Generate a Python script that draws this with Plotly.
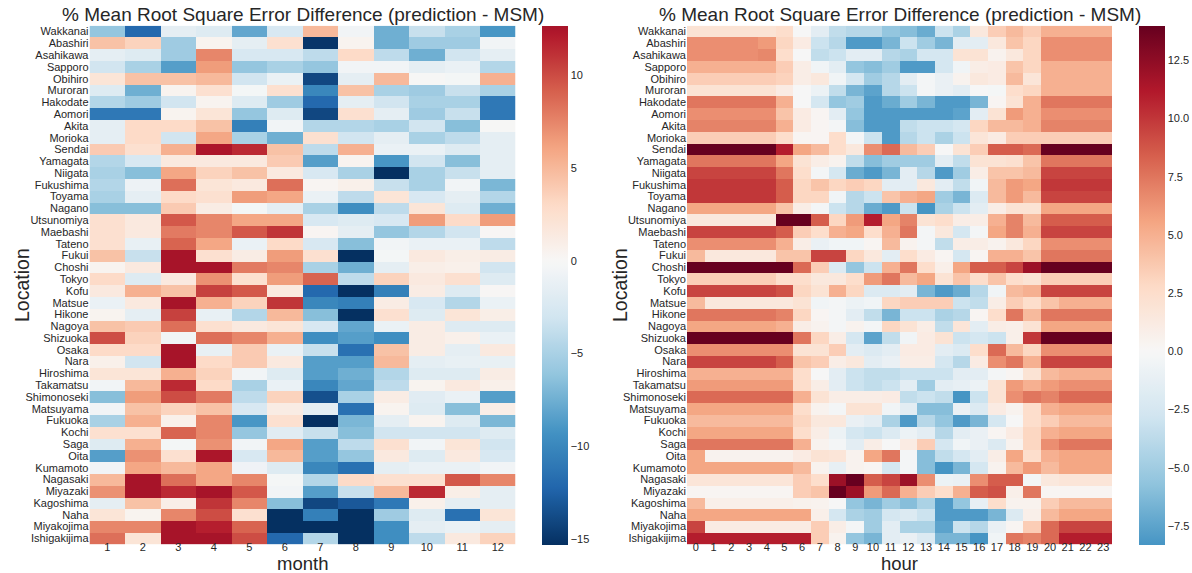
import plotly.graph_objects as go

locations = ["Wakkanai", "Abashiri", "Asahikawa", "Sapporo", "Obihiro", "Muroran", "Hakodate",
             "Aomori", "Akita", "Morioka", "Sendai", "Yamagata", "Niigata", "Fukushima", "Toyama",
             "Nagano", "Utsunomiya", "Maebashi", "Tateno", "Fukui", "Choshi", "Tokyo", "Kofu",
             "Matsue", "Hikone", "Nagoya", "Shizuoka", "Osaka", "Nara", "Hiroshima", "Takamatsu",
             "Shimonoseki", "Matsuyama", "Fukuoka", "Kochi", "Saga", "Oita", "Kumamoto", "Nagasaki",
             "Miyazaki", "Kagoshima", "Naha", "Miyakojima", "Ishigakijima"]
months = [str(m) for m in range(1, 13)]
hours = [str(h) for h in range(24)]

# % RMSE difference by month (rows follow `locations`)
err_month = [
    [-6, -12, -1.5, -2, -8, -2.5, 5, -0.5, -7.5, -3.5, -5, -9],
    [4.5, 3.5, -5.5, 0.5, -1.5, 2.5, -15, 0.5, -7.5, -5.5, -5.5, -0.5],
    [-1.5, -2, -5.5, 7.5, -2.5, -2.5, -4, 3, -4, -7.5, -3, -1.5],
    [-3, -5, -8.5, 6.5, -6, -5, -6, -0.5, -0.5, -1.5, -1, -4.5],
    [2, 4.5, 4.5, 5, -3, -1, -14, -1.5, 5, 0, -0.3, 5.5],
    [-2, -7.5, 0.5, 2.5, -0.3, 2.5, -10, 4.5, -5, -5.5, -3.5, -5],
    [-4.5, -5.5, -3, 0.5, -2, -5.5, -12, -1.5, -3, -5, -5, -11],
    [-11, -11, 0.5, 2, -6, -2, -14, 2.5, -1.5, -5.5, -3.5, -11],
    [-1.5, 3, 3, 4.5, -10.5, -0.5, -4.5, -4.5, -5, -3, -6.5, 0],
    [-1.5, 3, -3, 6, -5, -7.5, 2.5, -3, -1.5, -5, -4, -1.5],
    [4, 2.5, 5.5, 12.5, 11.5, 4.5, -4, 5.5, -1, -1, -2, -1.5],
    [-4.5, -2.5, 1.5, 1.5, 1.5, 4, -8.5, 0.5, -9, -3, -6.5, -1.5],
    [-5, -6.5, 6, 3.5, 4.5, 1.5, -2.5, -5, -15.3, -5, -3.5, -1.5],
    [-4.5, -0.8, 8.5, 2, 1.5, 8.5, 0.3, 0.8, -3.5, -5, -0.5, -7],
    [-5, -1.5, 3, 2.5, 6.5, 6, -1, -4, 2, -2.5, -1.5, -4.5],
    [-6.5, -6.5, 4, 1.2, -0.3, -1.5, -5, -9.5, -4, 2, -2, -7.5],
    [2.5, 1.5, 9.5, 7.5, 6, 6, -2.5, -2, -2.5, 6.5, 3, 6.5],
    [2.5, 1.5, 8, 7.5, 9.5, 11, 0.3, -1.5, -6, -4.5, -3, 0.2],
    [2.5, -1.2, 9, 6, -1, 3, -2.5, -6.5, -0.5, -1, -1, -4],
    [4.5, -3.5, 12.7, 2.5, 1.2, 6.5, 2.5, -15.3, -0.3, 1.5, 1, 1.2],
    [0.5, 1.5, 12.7, 12.7, 8, 7.5, -5, -7.5, -1.5, 1, 0.8, -3],
    [3, -2, 1.5, 7, 2.5, 6.5, 9, -4, 3.5, 1.5, 2.5, -2],
    [1.5, 5.5, 4.5, 10.5, 9.5, 1.5, -12, -15.3, -10.5, 1.2, -2, 0.2],
    [-1, 1.5, 12.7, 5.5, 3.5, 11, -10, -10.5, 1.2, -2.5, -4.5, -1],
    [0.5, -1.5, 10.5, -1.2, -4.5, 5, -6.5, -15.3, 2.5, -2, 2, 1],
    [4.5, 4, 8.5, 2.5, 1.5, 2, -2.5, -8, -1, 1.2, -2, -2],
    [10, 3.5, -0.5, 8.5, 7.5, 5.5, -9.5, -8.5, -9.5, 1.2, 0.8, -1],
    [3, 3, 12.7, -1.2, 4, -1, -3.5, -11.5, 4.5, 1.2, -1.5, 1.5],
    [0.8, -3, 12.7, 3, 4, 1.5, -8.5, -8.5, 5, -1.5, -1.2, -1.2],
    [2, 2, 5.5, 3.5, -0.5, -2, -8.5, -7.5, -4.5, -2, -2, 1.2],
    [-0.5, 5, 11.5, 3, -5, -1, -10, -8, -4, 0.5, 1.5, 0.8],
    [-6.5, 6.5, 10, 8, -4, 3.5, -13.5, -5, 1.2, -1.8, -1, -8.5],
    [-0.5, 4.5, 3.5, 4.5, -2.5, 1.2, -1.5, -11.5, 0.5, -2, -6.5, 1],
    [-5, 5.5, 0.8, 7.5, -9, 2.5, -15.3, -7, -1.5, 0.5, -2, -7],
    [2.5, 2.5, 9, 7.5, -6, -1.8, -3.5, -6.5, -3, -3, -3, -2],
    [-2, 5.5, -0.3, 7, -0.5, 6, -8.5, -4, 2.5, -0.5, 2, -3],
    [-8.5, 7, 2.5, 12.5, -2.5, 5, -8.5, -6, 1.5, -2, 1.5, -2.5],
    [-0.5, 6, 5, 6, -0.7, -2, -10, -11.5, -1.5, -1, -1, -0.5],
    [5, 12.7, 8.5, 6, 7.5, -0.2, -4.5, 3, 2.5, 2.5, 9.5, 7.5],
    [7, 12.7, 11.5, 12.7, 9.5, -0.5, -8.5, -3.5, 5, 11.5, 1, -1.5],
    [-1.5, 4.5, 1, 11, 7.5, -6.5, -14, -13, -11, 0.8, -1.5, -1.5],
    [2, 0.5, 7.5, 10, 2.5, -15.3, -10.5, -15.3, -5.5, -2, -11.5, 2],
    [7.5, 7.5, 12.7, 12, 9, -15.3, -15.3, -15.3, -9.5, -1.5, -1, -1.5],
    [8.5, 2, 12.7, 12.7, 10, -12, -4.5, -15.3, -9.5, -4, 1.5, 3.5],
]

# % RMSE difference by hour (rows follow `locations`)
err_hour = [
    [2, 2, 2, 2, 2, 2.5, 0, -1.5, -3.5, -4, -4, -5.5, -6, -7, -3, -4.5, 1.5, 3.5, 4.5, 3.5, 5, 5, 5, 5],
    [6.5, 6.5, 6.5, 6.5, 6, 3, 1.2, -3, -4, -8, -8, -6.5, -3, -5, -6.5, -1.5, -1.5, 1.5, 4, 3, 6.5, 6.5, 6.5, 6.5],
    [6.5, 6.5, 6.5, 6.5, 6.8, 2.5, 0, -3.5, -3, -1.5, -1.5, -4, -4.5, -2.5, -2.5, 2, 2, 0.5, 1.5, 3, 6.5, 6.5, 6.5, 6.5],
    [5, 5, 5, 5, 5, 3.5, 1, -0.5, -1.5, -5.5, -6, -5, -8, -8, -2.5, -0.5, 1, 1.2, 4, 3, 5, 5, 5, 5],
    [3.5, 3.5, 3.5, 3.5, 3.5, 3.2, 1, 1.5, -0.5, -2.5, -5, -4, -1.5, -0.3, -1, 0.5, 1.5, 1.2, 4.5, 1.8, 5, 5, 5, 5],
    [2, 2, 2, 2, 2, 1.2, 0, -0.8, -3.5, -6.5, -7.5, -4, -3, -0.3, -1, -1.5, 0, -0.2, 2.5, 3, 5, 5, 5, 5],
    [7.5, 7.5, 7.5, 7.5, 7.5, 5, 0, -2.5, -5.5, -5, -8, -7, -5, -6.5, -8, -8, -6.5, 0.3, 2, 5, 7.5, 7.5, 7.5, 7.5],
    [6.5, 6.5, 6.5, 6.5, 6.5, 4, 1.2, 0.3, -1.5, -5.5, -8, -8, -8, -8, -8, -7.5, -1.5, 2, 6, 5, 6.5, 6.5, 6.5, 6.5],
    [7, 7, 7, 7, 7, 5, 1.2, 0.3, -0.3, -6, -8, -8, -3.5, -3, -3, -2.5, 3, 4.5, 4.5, 5, 7, 7, 7, 7],
    [3.5, 3.5, 3.5, 3.5, 3.5, 2.5, 0.3, 0.3, 2.5, -0.3, -3, -8, -4, -3, -4.5, -3, 1.8, 1.2, 3.5, 3.5, 3.5, 3.5, 3.5, 3.5],
    [14, 14, 14, 14, 14, 11, 5.5, 4.5, 2.5, 1.5, 6.5, 8, 4.5, 3.5, 0, 2, 3.5, 8.5, 8.5, 8, 14, 14, 14, 14],
    [7.5, 7.5, 7.5, 7.5, 7.5, 5.5, 2, 1, 0.5, -3.5, -6, -5, -5, -5, -1.5, -3.5, 2, 2, 2.3, 4, 7.5, 7.5, 7.5, 7.5],
    [9.5, 9.5, 9.5, 9.5, 9.5, 7.5, 2.5, -0.3, -2.5, -7, -8, -6.5, -1.5, -4, -8, -5, 1, 4, 4, 4.5, 9.5, 9.5, 9.5, 9.5],
    [10, 10, 10, 10, 10, 8.5, 3, 4, 3, 3.5, 3, -1.5, -1.5, 1.5, -1.5, -3.5, -0.5, 4.5, 6, 5.5, 10, 10, 10, 10],
    [10, 10, 10, 10, 10, 8.5, 3, 3, -0.5, -4, -3, 4, 5, 5.5, -5, -6.5, -2, 4.5, 6, 4.5, 9.5, 9.5, 9.5, 9.5],
    [5.5, 5.5, 5.5, 5.5, 5.5, 4, 1, -0.3, -3, -4, -7, -8, -3, -8.3, -4.5, -3, -1.5, 1, 2, 2, 5.5, 5.5, 5.5, 5.5],
    [1.5, 1.5, 1.5, 1.5, 1.5, 14, 14, 8.5, 3, 6, 11, 5.5, 7, 2, 2.5, 1, 1, 5, 7, 4.5, 8.5, 8.5, 8.5, 8.5],
    [9.5, 9.5, 9.5, 9.5, 9.5, 8.5, 3.5, 2.5, 5, 5.5, 2.5, 5, 7.5, -0.3, 1.5, -2.5, -0.3, 5.5, 7, 5, 9.5, 9.5, 9.5, 9.5],
    [6.5, 6.5, 6.5, 6.5, 6.5, 5, 1, -1, -0.5, -0.5, 0.3, 4.5, 0.5, -0.3, -3.5, 1, 1, 0.5, 1.5, 3, 6.5, 6.5, 6.5, 6.5],
    [4.5, 1.5, 1.5, 1.5, 1.5, 4, 4, 9.5, 9.5, 3, 1.5, -1.5, 2.5, 1.2, 0.3, -2.5, 0.3, 5, 5, 4, 7.5, 7.5, 7.5, 7.5],
    [14, 14, 14, 14, 14, 14, 8, 3.5, -2, -5.5, -3, 5, 7.5, 2.5, 0.8, 5.5, 8.5, 8.5, 9.5, 12, 14, 14, 14, 14],
    [3.5, 3.5, 3.5, 3.5, 3.5, 2.5, 2.5, 1.5, 1.5, 2.5, 6, 7.5, 4.5, 5.5, 2, 4, 2.5, 4, 2.5, 2, 3.5, 3.5, 3.5, 3.5],
    [9.5, 9.5, 9.5, 9.5, 9.5, 9, 3, 2, 5, 3, -2, -2, -1.5, -6.5, -8, -7, -4, -0.5, 4.5, 5, 9.5, 9.5, 9.5, 9.5],
    [4.5, 1.5, 1.5, 1.5, 1.5, 1.5, 2, -0.5, -0.3, -0.8, -0.5, 3, 3.5, 3.5, 3.5, -3, -3.5, 1, 3.5, 2.5, 4, 5, 5, 5],
    [7.5, 7.5, 7.5, 7.5, 7.5, 7, 3, 0.3, -0.3, -1.5, -3.5, -6.5, -3, -3, -4.5, -4, 0.3, 2.5, 7.5, 4.5, 7.5, 7.5, 7.5, 7.5],
    [5.5, 5.5, 5.5, 5.5, 5.5, 5, 1, 0.5, -0.3, 0.5, -0.3, 3, 2, 1, -3.5, 1.8, -1.5, 1, 0.8, 2, 5.5, 5.5, 5.5, 5.5],
    [14, 14, 14, 14, 14, 14, 7.5, 3, 1, -2.5, -7.5, -3.5, -0.5, 1.2, 2, -3, -2.5, -3, 0.8, 10, 14, 14, 14, 14],
    [6.5, 6.5, 6.5, 6.5, 6.5, 6.5, 2, 2, 3.5, -1.5, -2, -1.5, 1.2, 1.2, -1.5, -2, 2.5, 8, 4.5, 3, 6.5, 6.5, 6.5, 6.5],
    [9.5, 9.5, 9.5, 9.5, 9.5, 8.5, 4, 3.5, 1, 1.5, -1.5, -1, 1, 1, -2.5, -4, 1.2, 6.5, 7.5, 5, 9.5, 9.5, 9.5, 9.5],
    [5, 5, 5, 5, 5, 5, 2.5, 0, -1.5, -3, -3.5, -3.5, -3, -3, -3, -1.5, -1.5, -0.3, 0.3, 2, 4.5, 5, 5, 5],
    [6, 6, 6, 6, 6, 6, 2.5, 1, -1.5, -3, -3.5, -3, -1.5, -5, -1.5, -1.2, -0.8, 2, 6, 5, 6, 6.5, 6.5, 6.5],
    [8, 8, 8, 8, 8, 8, 5, 2, 1, 1, 1, 1.2, -3.5, -3, -3.5, -8.3, -3, 2, 6.5, 7.5, 7, 8, 8, 8],
    [5.5, 5.5, 5.5, 5.5, 5.5, 5.5, 2.5, 0.5, -0.3, 2, 2, -0.5, -1.5, -6, -6, -1, -2, 1.2, 0.5, 2.5, 5, 5.5, 5.5, 5.5],
    [4.5, 4.5, 4.5, 4.5, 4.5, 4.5, 3, 1.5, 1.5, -1, -1.5, -4.5, -8, -4, -5.5, -8, -6.5, -2.5, 0, 2.5, 3.5, 4.5, 4.5, 4.5],
    [5.5, 5.5, 5.5, 5.5, 5.5, 5.5, 2.5, 1, -0.8, -2.5, -3, -2, -0.8, -1.5, -4, -1.5, -1, 0.3, 1.2, 3, 5, 5.5, 5.5, 5.5],
    [7.5, 7.5, 7.5, 7.5, 7.5, 7.5, 5, 0.5, -0.3, -1.5, 1, 0, 1.2, 3.5, -2.5, -0.5, -1, -2, 0.5, 3, 6.5, 7.5, 7.5, 7.5],
    [5.5, 0.5, 0.5, 0.5, 0.5, 0.5, 1.2, 2, 1.8, 0.5, 5.5, 7.5, -0.3, -6, -3.5, -2.5, -1.5, 1, 5.5, 2.5, 5, 5.5, 5.5, 5.5],
    [5.5, 5.5, 5.5, 5.5, 5.5, 5.5, 4.5, 0.5, -1.2, 0.5, 0.3, -2.5, -0.3, -6, -8.3, -6.5, -2.5, 0.5, 4.5, 6, 4.5, 5.5, 5.5, 5.5],
    [1.8, 1.8, 1.8, 1.8, 1.8, 1.8, 3.5, 2.5, 12, 14, 8.5, 9.5, 12, 6.5, -0.8, -1, 6.5, 8.5, 8.5, -0.3, 1.5, 1.8, 1.8, 1.8],
    [0.3, 0.3, 0.3, 0.3, 0.3, 0.3, 3.5, 4, 14, 12, 6, 8, 5, 3.5, 2.5, 5, 8.5, 9, 0.8, 7.5, 0.3, 0.3, 0.3, 0.3],
    [4.5, 0.8, 0.8, 0.8, 0.8, 0.8, 0.6, 0.5, 0, -5.5, -6.5, -5, -6, -4.5, -8, -5.5, -1.2, 2.5, 0.5, 0.5, 3.5, 4.5, 4.5, 4.5],
    [5.5, 5.5, 5.5, 5.5, 5.5, 5.5, 5.5, 0.8, -2.5, -4.5, -5, -2.5, -2, -3, -8, -8, -8, -6.5, -2, 0.8, 4.5, 5.5, 5.5, 5.5],
    [9.5, 1.2, 1.2, 1.2, 1.2, 1.2, 1.2, 3.5, 1, -0.3, -5, -1.5, -4.5, -4.5, -7.5, -3, -4, -1, 0.3, 3.5, 8, 9.5, 9.5, 9.5],
    [11, 11, 11, 11, 11, 11, 11, 3.5, 0.5, -5.5, -6.5, -1.5, -1, -2, -6.5, -6.5, -8.3, -0.5, 7.5, 7, 8, 11, 11, 11],
]

month_range = [-15.3, 12.7]
hour_range = [-8.3, 14.0]
month_ticks = [10, 5, 0, -5, -10, -15]
month_ticktext = ["10", "5", "0", "\u22125", "\u221210", "\u221215"]
hour_ticks = [12.5, 10, 7.5, 5, 2.5, 0, -2.5, -5, -7.5]
hour_ticktext = ["12.5", "10.0", "7.5", "5.0", "2.5", "0.0", "\u22122.5", "\u22125.0", "\u22127.5"]

title_text = "% Mean Root Square Error Difference (prediction - MSM)"

# matplotlib RdBu_r anchors
RDBU = [(5, 48, 97), (33, 102, 172), (67, 147, 195), (146, 197, 222), (209, 229, 240),
        (247, 247, 247), (253, 219, 199), (244, 165, 130), (214, 96, 77), (178, 24, 43), (103, 0, 31)]


def rdbu_r(t):
    t = min(max(t, 0.0), 1.0) * 10
    i = min(int(t), 9)
    f = t - i
    a, b = RDBU[i], RDBU[i + 1]
    c = [round(a[k] + (b[k] - a[k]) * f) for k in range(3)]
    return "rgb(%d,%d,%d)" % tuple(c)


def centered_scale(zmin, zmax, n=80):
    vmax = max(abs(zmin), abs(zmax))
    out = []
    for i in range(n + 1):
        f = i / n
        v = zmin + f * (zmax - zmin)
        out.append([f, rdbu_r(0.5 + v / (2 * vmax))])
    return out


W, H = 1192, 573


def px(x):
    return x / W


def py(y):
    return 1 - y / H


top, bottom = 25.7, 544.3
left_dom = [px(89.5), px(515.5)]
right_dom = [px(687), px(1112)]
ydom = [py(bottom), py(top)]
cb_len = (bottom - top) / H
cb_y = py((top + bottom) / 2)

text_col = "#262626"
FONT = "Liberation Sans, Arial, sans-serif"
tick_font = dict(family=FONT, size=11, color=text_col)

fig = go.Figure()
fig.add_trace(go.Heatmap(
    z=err_month, x=months, y=locations, xaxis="x", yaxis="y",
    zmin=month_range[0], zmax=month_range[1],
    colorscale=centered_scale(*month_range),
    colorbar=dict(x=px(542), xanchor="left", y=cb_y, yanchor="middle", len=cb_len,
                  thickness=26, outlinewidth=0, xpad=0, ypad=0,
                  tickvals=month_ticks, ticktext=month_ticktext, ticks="",
                  tickfont=tick_font),
))
fig.add_trace(go.Heatmap(
    z=err_hour, x=hours, y=locations, xaxis="x2", yaxis="y2",
    zmin=hour_range[0], zmax=hour_range[1],
    colorscale=centered_scale(*hour_range),
    colorbar=dict(x=px(1139), xanchor="left", y=cb_y, yanchor="middle", len=cb_len,
                  thickness=26, outlinewidth=0, xpad=0, ypad=0,
                  tickvals=hour_ticks, ticktext=hour_ticktext, ticks="",
                  tickfont=tick_font),
))

axis_common = dict(showgrid=False, zeroline=False, showline=False, ticks="", tickfont=tick_font)
yaxis_common = dict(type="category", autorange="reversed", tickmode="array",
                    tickvals=locations, ticktext=locations, **axis_common)
fig.update_layout(
    width=W, height=H,
    margin=dict(l=0, r=0, t=0, b=0),
    paper_bgcolor="white", plot_bgcolor="white",
    font=dict(family=FONT, color=text_col),
    xaxis=dict(domain=left_dom, anchor="y", type="category", tickmode="array",
               tickvals=months, ticktext=months, ticklabelstandoff=-5, **axis_common),
    yaxis=dict(domain=ydom, anchor="x", **yaxis_common),
    xaxis2=dict(domain=right_dom, anchor="y2", type="category", tickmode="array",
                tickvals=hours, ticktext=hours, ticklabelstandoff=-5, **axis_common),
    yaxis2=dict(domain=ydom, anchor="x2", **yaxis_common),
    showlegend=False,
)

ann_font_big = dict(family=FONT, size=19, color=text_col)
ann_font_lab = dict(family=FONT, size=19.5, color=text_col)
ann_font_xlab = dict(family=FONT, size=18.5, color=text_col)
annotations = []
for cx in [(89.5 + 515.5) / 2, (687 + 1112) / 2]:
    annotations.append(dict(text=title_text, x=px(cx), y=py(14.5), xref="paper", yref="paper",
                            xanchor="center", yanchor="middle", showarrow=False, font=ann_font_big))
for lx in [22, 620]:
    annotations.append(dict(text="Location", x=px(lx), y=cb_y, xref="paper", yref="paper",
                            xanchor="center", yanchor="middle", textangle=-90, showarrow=False,
                            font=ann_font_lab))
annotations.append(dict(text="month", x=px(302.5), y=py(563), xref="paper", yref="paper",
                        xanchor="center", yanchor="middle", showarrow=False, font=ann_font_xlab))
annotations.append(dict(text="hour", x=px(899.5), y=py(563), xref="paper", yref="paper",
                        xanchor="center", yanchor="middle", showarrow=False, font=ann_font_xlab))
fig.update_layout(annotations=annotations)

fig.write_html("out.html")
